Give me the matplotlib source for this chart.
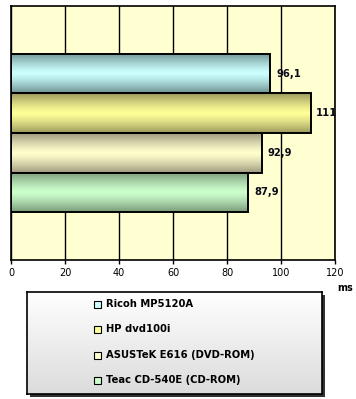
import numpy as np
import matplotlib
matplotlib.use('Agg')
import matplotlib.pyplot as plt
from matplotlib.patches import Rectangle

# data
drives = ['Ricoh MP5120A', 'HP dvd100i', 'ASUSTeK E616 (DVD-ROM)', 'Teac CD-540E (CD-ROM)']
times_ms = [96.1, 111, 92.9, 87.9]
value_labels = ['96,1', '111', '92,9', '87,9']
x_ticks = [0, 20, 40, 60, 80, 100, 120]

# (edge colour, centre colour) of each bar's vertical gradient
bar_colors = [('#6f9393', '#ccffff'), ('#9c9a5c', '#ffff99'),
              ('#9f9a80', '#ffffcc'), ('#7a9a7a', '#ccffcc')]
legend_colors = ['#ccffff', '#ffff99', '#ffffcc', '#ccffcc']

W, H = 356, 399


def gradient_image(edge, centre, n=64):
    e = np.array(matplotlib.colors.to_rgb(edge))
    c = np.array(matplotlib.colors.to_rgb(centre))
    t = np.linspace(-1, 1, n)
    w = np.clip(np.abs(t) ** 1.3, 0, 1)[:, None]
    return (c * (1 - w) + e * w)[:, None, :]


fig = plt.figure(figsize=(W / 100, H / 100), dpi=100)
ax = fig.add_axes([11 / W, 1 - 260 / H, 324 / W, 254 / H])
ax.set_facecolor('#ffffd2')

ys = np.arange(len(drives))[::-1]
bar_h = 1.0
for y, v, (edge, centre), lab in zip(ys, times_ms, bar_colors, value_labels):
    ax.imshow(gradient_image(edge, centre), extent=(0, v, y - bar_h / 2, y + bar_h / 2),
              aspect='auto', zorder=2, interpolation='bilinear')
    ax.add_patch(Rectangle((0, y - bar_h / 2), v, bar_h, fill=False,
                           edgecolor='black', linewidth=1.4, zorder=3))
    ax.annotate(lab, (v, y), xytext=(4, 0), textcoords='offset points',
                va='center', ha='left', fontsize=7.2, fontweight='bold',
                color='#0a0a1a', zorder=4)

ax.set_xlim(0, 120)
ax.set_ylim(-1.715, 4.715)
ax.set_xticks(x_ticks)
ax.set_xticklabels([str(t) for t in x_ticks], fontsize=7)
ax.set_yticks([])
ax.grid(axis='x', color='black', linewidth=1.0, zorder=1)
ax.set_axisbelow(True)
ax.tick_params(axis='x', length=3, width=1, pad=3, colors='black')
for s in ax.spines.values():
    s.set_linewidth(1.2)
ax.text(1.03, -0.11, 'ms', transform=ax.transAxes, fontsize=7, fontweight='bold',
        ha='center', va='center')

# legend box with gradient and drop shadow
lx, ly, lw, lh = 27 / W, 1 - 394 / H, 295 / W, 102 / H
fig.patches.append(Rectangle((lx + 3 / W, ly - 3 / H), lw, lh, transform=fig.transFigure,
                             facecolor='#333333', edgecolor='none', zorder=1))
lax = fig.add_axes([lx, ly, lw, lh])
lax.set_zorder(2)
g = np.linspace(1.0, 0.86, 64)[:, None]
lax.imshow(np.dstack([g, g, g]), extent=(0, 1, 0, 1), aspect='auto')
lax.set_xlim(0, 1)
lax.set_ylim(0, 1)
lax.set_xticks([])
lax.set_yticks([])
for s in lax.spines.values():
    s.set_linewidth(1.2)

entry_y = [304, 329, 355, 380]
for name, col, py in zip(drives, legend_colors, entry_y):
    fy = 1 - py / H
    fig.patches.append(Rectangle((94 / W, fy - 3.5 / H), 7 / W, 7 / H, transform=fig.transFigure,
                                 facecolor=col, edgecolor='black', linewidth=0.8, zorder=5))
    fig.text(106 / W, fy, name, fontsize=7.2, fontweight='bold', va='center', ha='left',
             zorder=6)

fig.savefig('out.png', dpi=100)
